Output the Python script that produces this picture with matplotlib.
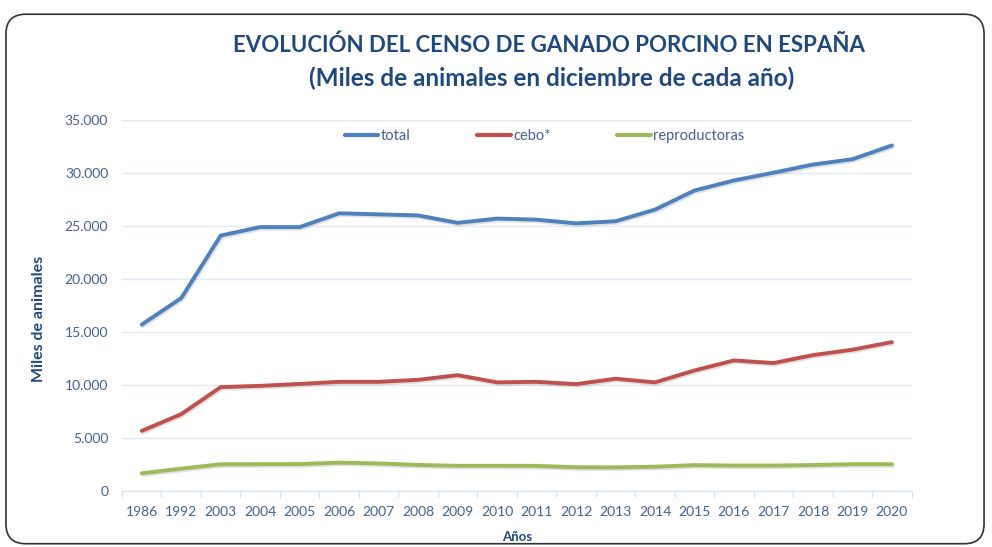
import numpy as np
import matplotlib
matplotlib.use("Agg")
import matplotlib.pyplot as plt
import matplotlib.patheffects as pe
from matplotlib.patches import FancyBboxPatch
from matplotlib.ticker import FuncFormatter, FixedLocator

years = ["1986", "1992", "2003", "2004", "2005", "2006", "2007", "2008", "2009", "2010",
         "2011", "2012", "2013", "2014", "2015", "2016", "2017", "2018", "2019", "2020"]

total = [15700, 18200, 24100, 24900, 24900, 26200, 26100, 26000, 25300, 25700,
         25600, 25250, 25450, 26550, 28350, 29300, 30030, 30800, 31300, 32600]
cebo = [5670, 7250, 9800, 9920, 10100, 10300, 10300, 10490, 10930, 10250,
        10300, 10080, 10590, 10250, 11370, 12320, 12070, 12820, 13330, 14050]
reproductoras = [1670, 2110, 2520, 2530, 2540, 2680, 2600, 2460, 2380, 2380,
                 2370, 2240, 2230, 2290, 2440, 2400, 2400, 2450, 2530, 2530]

plt.rcParams['font.family'] = ["Lato", "DejaVu Sans"]

title_col = "#1f497d"
tick_col = "#44618f"

fig = plt.figure(figsize=(9.92, 5.47), dpi=100)
fig.patch.set_facecolor("white")

# rounded border round the whole chart
frame = FancyBboxPatch((0.006, 0.006), 0.986, 0.968,
                       boxstyle="round,pad=0,rounding_size=0.02",
                       transform=fig.transFigure, facecolor="none",
                       edgecolor="#333333", linewidth=1.2, mutation_aspect=992/547)
fig.patches.append(frame)

ax = fig.add_axes([0.123, 0.1024, 0.796, 0.6782])
x = np.arange(len(years))

shadow = [pe.SimpleLineShadow(offset=(0.8, -1.2), shadow_color="#000000", alpha=0.12), pe.Normal()]
ax.plot(x, total, color="#4f81bd", lw=2.8, label="total", path_effects=shadow, solid_capstyle="round")
ax.plot(x, cebo, color="#c0504d", lw=2.8, label="cebo*", path_effects=shadow, solid_capstyle="round")
ax.plot(x, reproductoras, color="#9bbb59", lw=2.8, label="reproductoras", path_effects=shadow, solid_capstyle="round")

ax.set_xlim(-0.5, len(years) - 0.5)
ax.set_ylim(0, 35000)
ax.set_yticks(np.arange(0, 35001, 5000))
ax.yaxis.set_major_formatter(FuncFormatter(lambda v, p: "0" if v == 0 else f"{int(v):,}".replace(",", ".")))
ax.set_xticks(x)
ax.set_xticklabels(years)
ax.xaxis.set_minor_locator(FixedLocator(np.arange(-0.5, len(years), 1)))
ax.tick_params(axis="x", which="major", length=0, pad=11, labelsize=10, labelcolor=tick_col)
ax.tick_params(axis="x", which="minor", length=5, color="#d9e2ef", width=1)
ax.tick_params(axis="y", length=0, pad=10, labelsize=10, labelcolor=tick_col)

ax.grid(axis="y", color="#e3eaf4", lw=1)
ax.set_axisbelow(True)
for s in ["top", "right", "left"]:
    ax.spines[s].set_visible(False)
ax.spines["bottom"].set_color("#d9e2ef")

ax.set_xlabel("Años", fontsize=9.5, fontweight="bold", color=title_col, labelpad=9)
ax.set_ylabel("Miles de animales", fontsize=11.5, fontweight="bold", color=title_col)
ax.yaxis.set_label_coords(-0.096, 0.465)

leg = ax.legend(loc="center", bbox_to_anchor=(0.535, 0.956), ncol=3, frameon=False,
                fontsize=10.5, handlelength=2.3, handletextpad=0.15, columnspacing=4.6)
for t in leg.get_texts():
    t.set_color(tick_col)
for h in leg.get_lines():
    h.set_linewidth(3)
    h.set_path_effects([])

fig.text(0.553, 0.918, "EVOLUCIÓN DEL CENSO DE GANADO PORCINO EN ESPAÑA",
         ha="center", va="center", fontsize=16, fontweight="bold", color=title_col)
fig.text(0.556, 0.857, "(Miles de animales en diciembre de cada año)",
         ha="center", va="center", fontsize=17.5, fontweight="bold", color=title_col)

fig.savefig("out.png", dpi=100)
